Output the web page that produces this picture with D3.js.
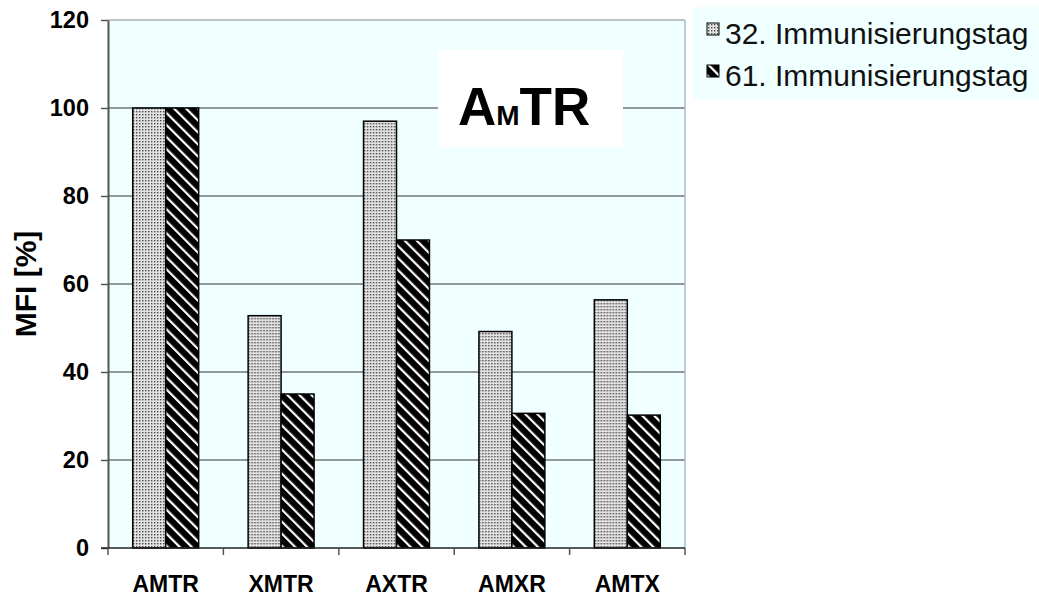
<!DOCTYPE html>
<html>
<head>
<meta charset="utf-8">
<script src="https://cdn.jsdelivr.net/npm/d3@7"></script>
<style>
  html, body { margin: 0; padding: 0; background: #fff; }
  svg { display: block; font-family: "Liberation Sans", Arial, sans-serif; }
</style>
</head>
<body>
<div id="chart"></div>
<script>
// MFI per construct, two immunisation days
const categories = ['AMTR', 'XMTR', 'AXTR', 'AMXR', 'AMTX'];
const seriesNames = ['32. Immunisierungstag', '61. Immunisierungstag'];
const day32 = [100, 52.8, 97.0, 49.2, 56.4];
const day61 = [100, 35.0, 70.0, 30.6, 30.2];
const yTicks = [0, 20, 40, 60, 80, 100, 120];

(function(){
  const width = 1039, height = 599;
  const margin = {top: 20, right: 354, bottom: 51, left: 108};
  const innerW = width - margin.left - margin.right;
  const innerH = height - margin.top - margin.bottom;

  const svg = d3.select('#chart').append('svg')
    .attr('width', width).attr('height', height);

  // fill patterns: stipple and diagonal hatch
  const defs = svg.append('defs');
  const dots = defs.append('pattern').attr('id', 'dots')
    .attr('patternUnits', 'userSpaceOnUse').attr('width', 3).attr('height', 3);
  dots.append('rect').attr('width', 3).attr('height', 3).attr('fill', '#e2e2e2');
  dots.append('rect').attr('x', 1).attr('y', 1).attr('width', 1.4).attr('height', 1.4).attr('fill', '#4a4a4a');

  const hatch = defs.append('pattern').attr('id', 'hatch')
    .attr('patternUnits', 'userSpaceOnUse').attr('width', 8.5).attr('height', 8.5)
    .attr('patternTransform', 'rotate(-45)');
  hatch.append('rect').attr('width', 8.5).attr('height', 8.5).attr('fill', '#000');
  hatch.append('rect').attr('x', 0).attr('width', 2.2).attr('height', 8.5).attr('fill', '#fff');

  const fills = ['url(#dots)', 'url(#hatch)'];

  const rows = categories.map((c, i) => ({cat: c, values: [day32[i], day61[i]]}));

  const x = d3.scaleBand().domain(categories).range([0, innerW]).paddingInner(0).paddingOuter(0);
  const x1 = d3.scaleBand().domain(d3.range(seriesNames.length))
    .range([0, x.bandwidth()]).paddingInner(0).paddingOuter(0.75);
  const y = d3.scaleLinear().domain([0, 120]).range([innerH, 0]);

  const g = svg.append('g').attr('transform', `translate(${margin.left},${margin.top})`);

  g.append('rect').attr('width', innerW).attr('height', innerH).attr('fill', '#f0ffff');

  // gridlines
  g.selectAll('line.grid').data(yTicks.filter(t => t > 0)).join('line')
    .attr('class', 'grid')
    .attr('x1', 0).attr('x2', innerW)
    .attr('y1', d => y(d)).attr('y2', d => y(d))
    .attr('stroke', d => d === 120 ? '#888' : '#333').attr('stroke-width', 1.2);

  // right border
  g.append('line').attr('x1', innerW).attr('x2', innerW).attr('y1', 0).attr('y2', innerH)
    .attr('stroke', '#a8b8c8').attr('stroke-width', 1.5);

  // bars
  g.selectAll('g.cat').data(rows).join('g')
    .attr('class', 'cat')
    .attr('transform', d => `translate(${x(d.cat)},0)`)
    .selectAll('rect').data(d => d.values.map((v, k) => ({k, v}))).join('rect')
    .attr('x', d => x1(d.k)).attr('width', x1.bandwidth())
    .attr('y', d => y(d.v)).attr('height', d => innerH - y(d.v))
    .attr('fill', d => fills[d.k])
    .attr('stroke', '#000').attr('stroke-width', 1.5);

  // y axis
  const yAxis = g.append('g')
    .call(d3.axisLeft(y).tickValues(yTicks).tickSize(7).tickPadding(12).tickSizeOuter(0));
  yAxis.select('.domain').attr('stroke', '#555').attr('stroke-width', 2);
  yAxis.selectAll('.tick line').attr('stroke', '#555').attr('stroke-width', 1.5);
  yAxis.selectAll('text').attr('font-size', 23.5).attr('font-weight', 'bold')
    .attr('font-family', '"Liberation Sans", Arial, sans-serif').attr('fill', '#000');

  // x axis
  const xAxis = g.append('g').attr('transform', `translate(0,${innerH})`)
    .call(d3.axisBottom(x).tickSize(0).tickPadding(28));
  xAxis.select('.domain').remove();
  xAxis.selectAll('text').attr('font-size', 23).attr('font-weight', 'bold')
    .attr('font-family', '"Liberation Sans", Arial, sans-serif').attr('fill', '#000');
  xAxis.append('line').attr('x1', -7).attr('x2', innerW).attr('y1', 0).attr('y2', 0)
    .attr('stroke', '#222').attr('stroke-width', 1.5);
  const bounds = categories.map(c => x(c)).concat([x(categories[categories.length - 1]) + x.bandwidth()]);
  xAxis.selectAll('line.btick').data(bounds).join('line')
    .attr('class', 'btick')
    .attr('x1', d => d).attr('x2', d => d).attr('y1', 0).attr('y2', 7)
    .attr('stroke', '#555').attr('stroke-width', 1.5);

  // y axis title
  svg.append('text')
    .attr('transform', `translate(36,${margin.top + innerH / 2}) rotate(-90)`)
    .attr('text-anchor', 'middle')
    .attr('font-size', 30).attr('font-weight', 'bold').attr('fill', '#000')
    .text('MFI [%]');

  // inset label
  g.append('rect').attr('x', 330).attr('y', 30).attr('width', 185).attr('height', 97).attr('fill', '#fff');
  const lbl = g.append('text').attr('x', 350).attr('y', 105)
    .attr('font-weight', 'bold').attr('font-size', 53).attr('fill', '#000');
  lbl.append('tspan').text('A');
  lbl.append('tspan').attr('font-size', 28).text('M');
  lbl.append('tspan').text('TR');

  // legend
  const leg = svg.append('g').attr('transform', 'translate(693,7)');
  leg.append('rect').attr('width', width - 693).attr('height', 93).attr('fill', '#f0ffff');
  const item = leg.selectAll('g.item').data(seriesNames).join('g')
    .attr('class', 'item')
    .attr('transform', (d, i) => `translate(14,${16 + i * 42})`);
  item.append('rect').attr('width', 12).attr('height', 12)
    .attr('fill', (d, i) => fills[i]).attr('stroke', '#000').attr('stroke-width', 1);
  item.append('text').attr('x', 18).attr('y', 21)
    .attr('font-size', 30).attr('fill', '#111')
    .text(d => d);
})();
</script>
</body>
</html>
